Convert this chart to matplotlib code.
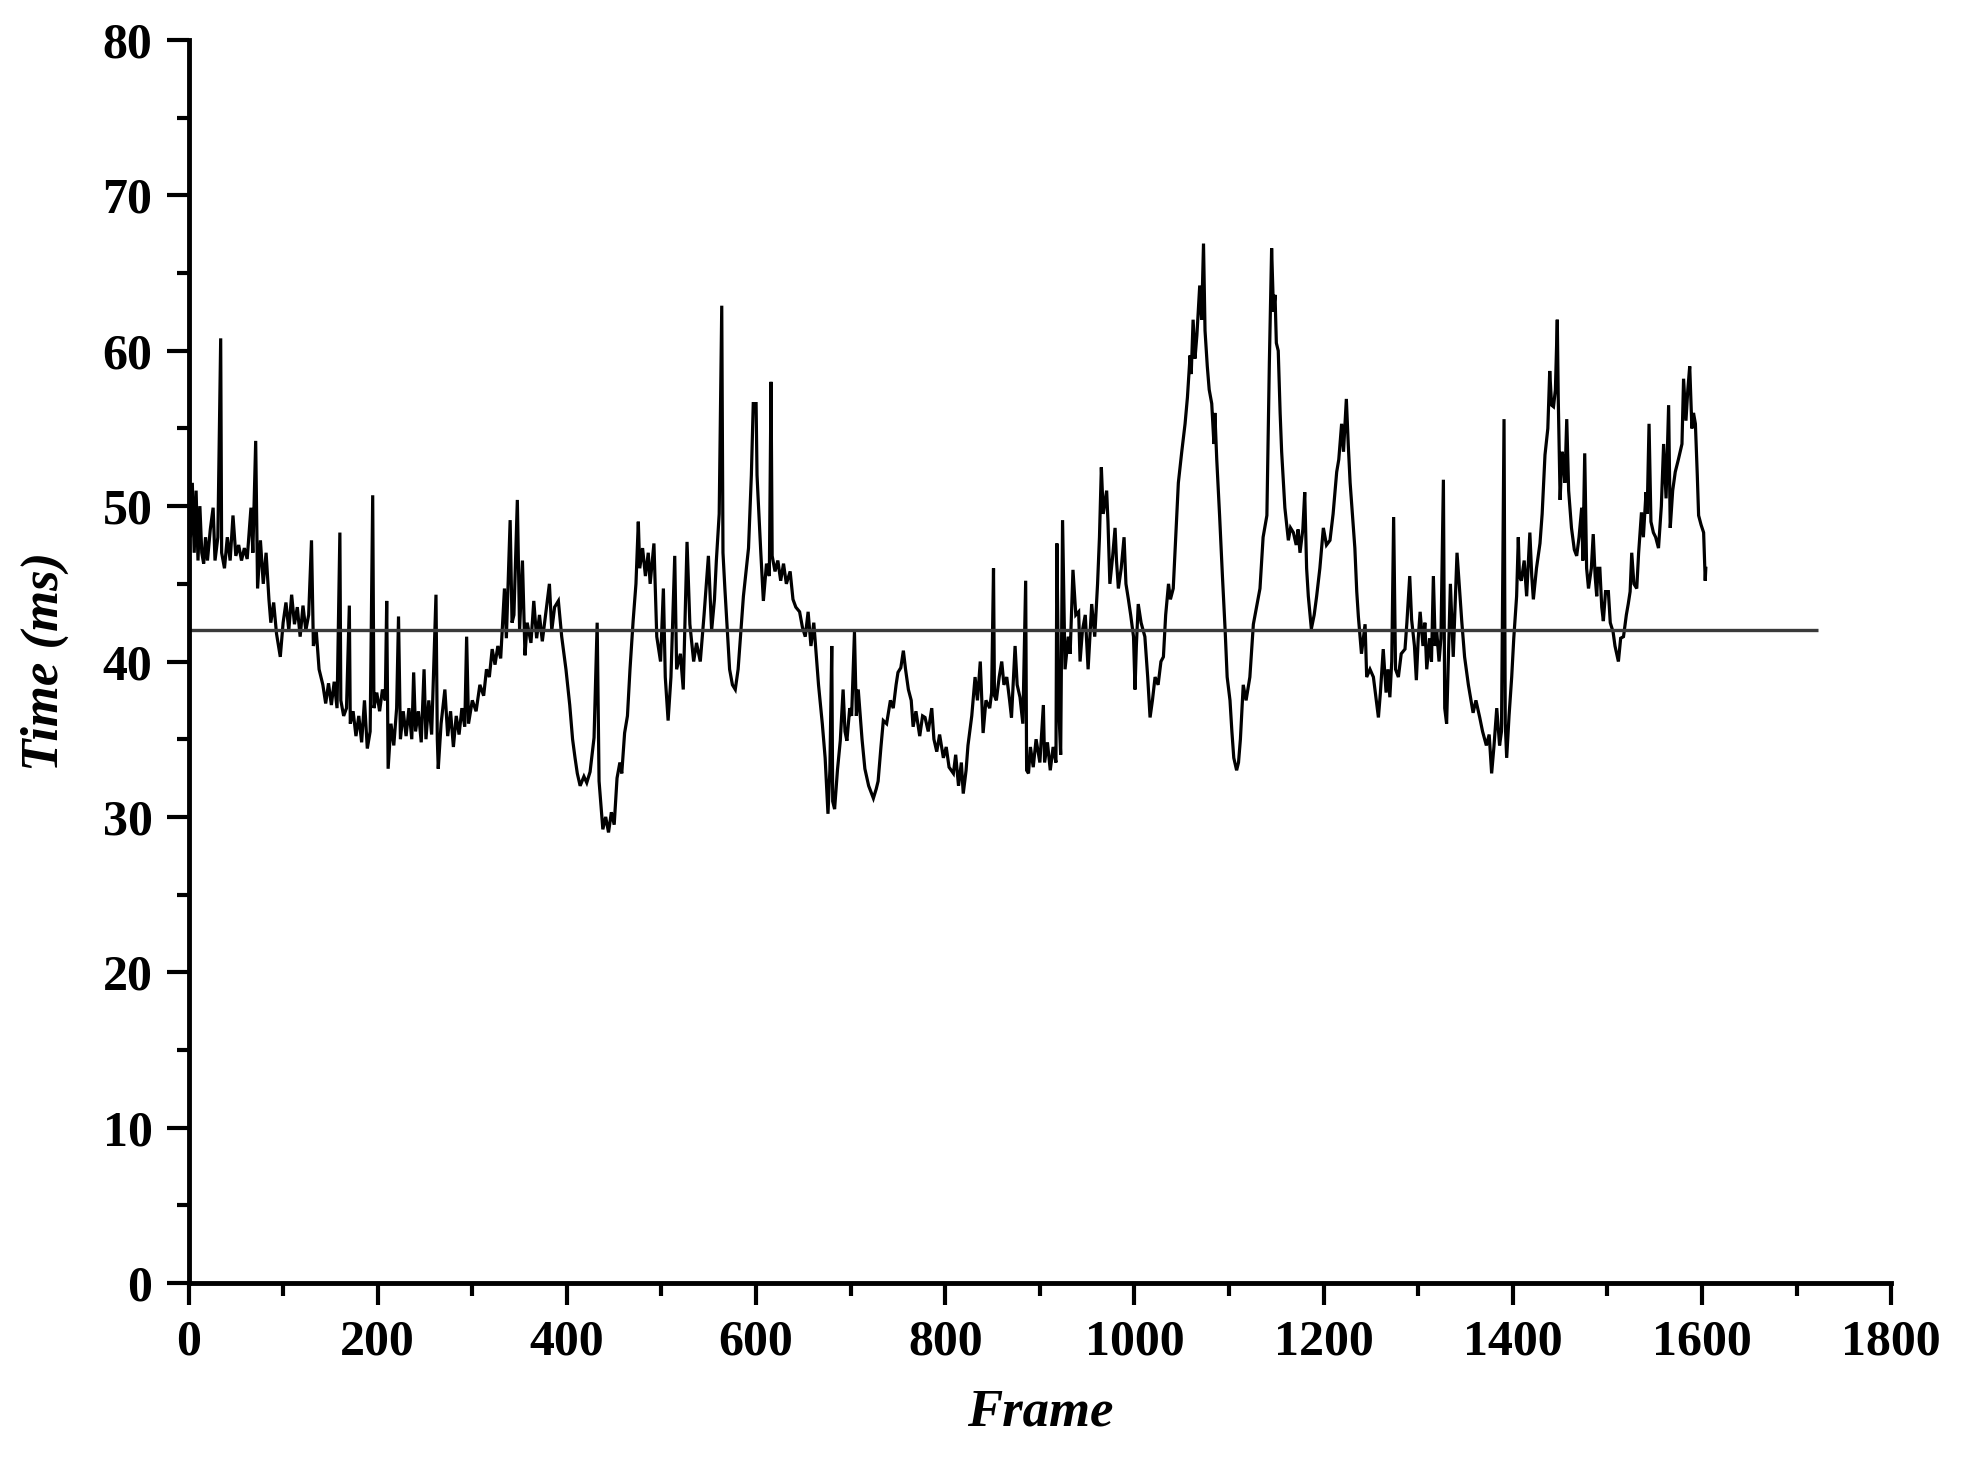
import numpy as np
import matplotlib
matplotlib.use("Agg")
import matplotlib.pyplot as plt
from matplotlib.ticker import MultipleLocator

# frame index and processing time (ms)
frame = [0, 1, 2, 4, 6, 8, 10, 12, 14, 16, 18, 20, 23, 26, 28, 31, 34, 35, 38, 41,
         44, 47, 50, 53, 56, 59, 62, 66, 68, 71, 73, 76, 79, 82, 85, 87, 90, 93, 97, 100,
         103, 106, 109, 112, 115, 118, 121, 124, 127, 130, 132, 135, 138, 142, 145, 148, 151, 154, 157, 160,
         161, 164, 167, 170, 171, 174, 177, 180, 183, 186, 189, 192, 194.7, 196, 199, 202, 205, 208, 209.5, 211,
         214, 217, 220, 222, 224, 227, 230, 233, 236, 238, 240, 243, 246, 249, 251, 254, 257, 261.6, 263, 264,
         267, 271, 274, 277, 280, 283, 286, 289, 292, 294, 296, 300, 304, 308, 312, 315, 318, 321, 324, 327,
         330, 334, 336, 340, 342, 344, 347.6, 350, 353, 355.7, 358, 362, 365, 368, 371, 374, 377, 381.5, 384, 387,
         391, 394.5, 399, 403, 406, 408.6, 411, 414, 418, 421, 424.5, 428.7, 432, 434, 438, 441, 444, 447, 450, 453,
         456, 458, 461, 464, 466.7, 470, 473, 475.5, 477, 480, 483, 486, 488, 492, 495, 499, 502, 504, 507, 510,
         514, 516, 520, 523, 527, 530, 534, 537, 541, 545, 549.6, 553, 556, 558, 561, 563.7, 565, 567, 572, 575,
         578, 581, 586.6, 592, 595, 597, 600, 601, 602, 605, 607.7, 611, 614, 615.8, 617, 620, 623, 626, 629, 632,
         636, 639, 642, 646, 649, 652, 655, 658, 661, 666, 670, 673, 676, 678, 680, 681, 683, 686, 689, 692,
         694, 696, 699, 701, 704, 706, 708, 712, 715, 719, 724, 727, 729, 732, 734.5, 738, 742, 745, 748, 750,
         753, 755.7, 758, 761, 764, 766, 769, 773, 776, 778.6, 782, 785.7, 788, 791, 794, 798, 801, 804, 808.6, 811,
         814, 817, 819, 822, 824, 828, 831.5, 834, 837, 840, 843, 847, 849, 851, 852, 854, 857, 859.7, 862, 865,
         868, 870, 873.8, 876, 879, 882, 885, 886, 888, 890, 893, 896, 900, 903.7, 905, 908, 911, 914, 917, 918,
         920, 922, 924, 926.6, 930, 932, 935, 938, 941, 942.5, 945, 948, 951, 954.8, 958, 961, 963, 965, 967, 970.6,
         972, 974, 977, 979.5, 981, 983, 986, 989, 991, 993.6, 996, 999, 1000.6, 1002, 1004, 1007, 1011, 1014, 1016.5, 1019,
         1021.8, 1025, 1028, 1030.6, 1033, 1036, 1038, 1041, 1044, 1046.4, 1050, 1053.5, 1056, 1058.8, 1060, 1062, 1064, 1066, 1069, 1071,
         1073, 1074.6, 1077, 1079, 1081.7, 1084, 1085, 1087, 1090, 1093, 1095.8, 1098, 1101, 1103, 1105, 1108, 1110, 1112, 1115, 1118,
         1122, 1125.7, 1129, 1132.7, 1136, 1140, 1142.6, 1145, 1147, 1148.6, 1150, 1152, 1154, 1155.6, 1159, 1162.7, 1165, 1168, 1171, 1173,
         1175, 1178, 1180, 1182, 1183.8, 1187, 1190, 1192.6, 1196, 1199.7, 1203, 1206.7, 1210, 1213.8, 1216, 1219, 1221, 1224, 1226, 1228,
         1231, 1233, 1235, 1236.7, 1240, 1243.8, 1245.5, 1249, 1252.6, 1255, 1257.9, 1260, 1263, 1266, 1268, 1270, 1272, 1274, 1276, 1279,
         1282, 1286, 1288, 1291, 1293, 1296, 1298, 1300, 1302, 1305, 1307, 1309, 1312, 1314, 1316, 1318, 1319.5, 1322, 1324, 1326.6,
         1328, 1330, 1332, 1334, 1337, 1341, 1346, 1349, 1353, 1358, 1361, 1365, 1368, 1372, 1375, 1377.6, 1380, 1383, 1386, 1388,
         1390.7, 1392, 1393.5, 1396, 1398.8, 1401, 1404, 1405.8, 1407, 1409, 1412, 1414.6, 1418, 1420, 1421.7, 1425, 1428.7, 1431, 1434, 1437,
         1439, 1441, 1443, 1445, 1447, 1448, 1450, 1452, 1453.4, 1455, 1457, 1459, 1462, 1465, 1467.5, 1470, 1472.8, 1474, 1476, 1478,
         1480, 1483, 1485, 1487, 1488.7, 1490, 1492, 1494, 1495.7, 1498, 1501, 1503, 1506, 1508, 1511.6, 1514, 1517, 1520, 1522, 1524,
         1525.7, 1528, 1531, 1533, 1536, 1538, 1540.8, 1542, 1544, 1546, 1548.6, 1551, 1554, 1557, 1559.4, 1562, 1564.7, 1566.4, 1569, 1571.7,
         1575, 1578.8, 1580.5, 1583, 1585, 1587, 1589.3, 1591, 1593, 1595, 1596.4, 1599, 1601.7, 1603.4, 1604]

time_ms = [65.5, 50.5, 48, 51.5, 47, 51, 46.5, 50, 47, 46.3, 48, 46.5, 48.5, 49.9, 46.5, 48, 60.8, 47, 46, 48,
           46.5, 49.4, 46.8, 47.5, 46.5, 47.3, 46.6, 49.9, 47, 54.2, 44.7, 47.8, 45, 47, 44, 42.5, 43.8, 41.8, 40.3, 42.5,
           43.8, 42, 44.3, 42.4, 43.5, 41.6, 43.6, 42, 43, 47.8, 41, 42, 39.5, 38.5, 37.3, 38.6, 37.2, 38.7, 37, 48.3,
           37.5, 36.5, 37, 43.6, 36, 36.8, 35.2, 36.5, 34.8, 37.5, 34.4, 35.5, 50.7, 37, 38, 36.8, 38.2, 37.5, 43.9, 33.1,
           36, 34.6, 37, 42.9, 35, 36.8, 35.2, 37, 35, 39.3, 35.5, 36.8, 34.8, 39.5, 35, 37.5, 35.3, 44.3, 35, 33.1,
           36, 38.2, 35.2, 36.8, 34.5, 36.5, 35.3, 37, 35.8, 41.6, 36, 37.5, 36.8, 38.5, 37.8, 39.5, 39, 40.8, 39.8, 41,
           40.2, 44.7, 41.5, 49.1, 42.5, 43, 50.4, 42, 46.5, 40.4, 42.5, 41.2, 43.9, 41.5, 43, 41.3, 42.8, 45, 42, 43.5,
           43.9, 41.6, 39.5, 37.2, 35, 33.8, 32.8, 32, 32.6, 32.2, 32.9, 35.1, 42.5, 32.3, 29.2, 30, 29, 30.3, 29.5, 32.5,
           33.5, 32.8, 35.4, 36.5, 39.5, 42.6, 45, 49, 46, 47.3, 45.5, 47, 45, 47.6, 41.6, 40, 44.7, 39, 36.2, 39,
           46.8, 39.5, 40.5, 38.2, 47.7, 42.4, 40, 41.2, 40, 43, 46.8, 42, 44, 46.5, 49.5, 62.9, 47, 44.7, 39.5, 38.5,
           38.2, 39.5, 44.2, 47.3, 52, 56.6, 56.6, 52, 50.7, 47, 43.9, 46.3, 45.5, 58, 46.8, 45.8, 46.5, 45.2, 46.3, 45,
           45.8, 44, 43.5, 43.2, 42.2, 41.6, 43.2, 41, 42.5, 38.5, 36, 33.8, 30.2, 33, 41, 31, 30.5, 33, 34.9, 38.2,
           35.5, 34.9, 37, 36.5, 41.9, 36.5, 38.2, 35, 33.1, 32, 31.2, 31.8, 32.3, 34.5, 36.2, 36, 37.5, 37, 38.5, 39.3,
           39.6, 40.7, 39.5, 38.2, 37.5, 35.8, 36.8, 35.2, 36.5, 36.4, 35.5, 37, 35, 34.2, 35.3, 33.8, 34.5, 33.2, 32.8, 34,
           32, 33.5, 31.5, 33, 34.6, 36.5, 39, 37.5, 40, 35.4, 37.5, 37, 38, 46, 37.8, 37.5, 39, 40, 38.5, 39,
           37.5, 36.4, 41, 38.5, 37.7, 36, 45.2, 33, 32.8, 34.5, 33.2, 35, 33.5, 37.2, 33.5, 34.8, 33, 34.5, 33.5, 47.6,
           37, 34, 49.1, 39.5, 41.6, 40.5, 45.9, 43, 43.2, 40, 42, 43, 39.5, 43.7, 41.6, 45, 48, 52.5, 49.5, 51,
           49, 45, 46.8, 48.6, 46.5, 44.7, 46, 48, 45, 44, 43, 41.6, 38.2, 41, 43.7, 42.5, 41.6, 39, 36.4, 37.5,
           39, 38.5, 40, 40.3, 43, 45, 44, 44.7, 48.5, 51.5, 53.5, 55.3, 57, 59.7, 58.5, 62, 59.5, 61, 64.2, 62,
           66.9, 61.3, 59, 57.5, 56.6, 54, 56, 53, 49.4, 45.5, 42.1, 39, 37.5, 35.5, 33.8, 33, 33.5, 35, 38.5, 37.5,
           39, 42.4, 43.5, 44.7, 48, 49.4, 59.2, 66.6, 62.5, 63.6, 60.5, 60, 56, 53.5, 49.9, 47.8, 48.6, 48.3, 47.5, 48.5,
           47, 48.5, 50.9, 46, 44.2, 42.1, 43, 44.2, 46, 48.6, 47.5, 47.8, 49.5, 52.2, 53, 55.3, 53.5, 56.9, 54, 51.5,
           49, 47.3, 44.5, 42.9, 40.5, 42.4, 39, 39.5, 39, 37.8, 36.4, 38, 40.8, 38, 39.5, 37.7, 40, 49.3, 39.5, 39,
           40.5, 40.8, 42.5, 45.5, 42.7, 41, 38.8, 41.5, 43.2, 41, 42.5, 39.5, 41.5, 40, 45.5, 41, 42, 40, 41.5, 51.7,
           37, 36, 40.6, 45, 40.3, 47, 42.6, 40.3, 38.5, 36.7, 37.5, 36.4, 35.5, 34.6, 35.3, 32.8, 34.5, 37, 34.6, 35.5,
           55.6, 36, 33.8, 36.5, 39, 41.5, 44.2, 48, 45.5, 45.2, 46.5, 44.2, 48.3, 45.5, 44, 46, 47.6, 49.5, 53.3, 55,
           58.7, 56.5, 56.4, 57.5, 62, 57, 50.4, 53.5, 53, 51.5, 55.6, 51, 48.6, 47.2, 46.8, 48, 49.9, 46.5, 53.4, 46,
           44.7, 46, 48.2, 45.5, 44.2, 46, 46, 43.5, 42.6, 44.5, 44.5, 42.5, 41.9, 41, 40, 41.5, 41.6, 43, 43.7, 44.5,
           47, 45, 44.7, 47, 49.6, 48, 50.9, 49.5, 55.3, 49, 48.3, 48, 47.3, 50, 54, 50.5, 56.5, 48.6, 51, 52.2,
           53, 54, 58.2, 55.5, 57.5, 59, 55, 56, 55.3, 52, 49.4, 48.8, 48.3, 45.2, 46]

mean_ms = 42
mean_line_end = 1723

plt.rcParams['font.family'] = ['Liberation Serif', 'DejaVu Serif']
plt.rcParams['font.weight'] = 'bold'

fig = plt.figure(figsize=(19.7, 14.6), dpi=100)
ax = fig.add_axes([0.0957, 0.1212, 0.8643, 0.8514])

ax.plot(frame, time_ms, color='black', lw=2.3, solid_joinstyle='miter')
ax.hlines(mean_ms, 0, mean_line_end, color='#3a3a3a', lw=2.4)

ax.set_xlim(0, 1800)
ax.set_ylim(0, 80)
ax.xaxis.set_major_locator(MultipleLocator(200))
ax.xaxis.set_minor_locator(MultipleLocator(100))
ax.yaxis.set_major_locator(MultipleLocator(10))
ax.yaxis.set_minor_locator(MultipleLocator(5))

for side in ['top', 'right']:
    ax.spines[side].set_visible(False)
for side in ['left', 'bottom']:
    ax.spines[side].set_linewidth(3.5)

ax.tick_params(which='major', direction='out', length=16, width=3, labelsize=36, pad=10)
ax.tick_params(which='minor', direction='out', length=9, width=3)
for lab in ax.get_xticklabels() + ax.get_yticklabels():
    lab.set_fontweight('bold')

ax.set_xlabel('Frame', fontsize=38, fontweight='bold', fontstyle='italic')
ax.set_ylabel('Time (ms)', fontsize=38, fontweight='bold', fontstyle='italic')
ax.xaxis.set_label_coords(0.5, -0.085)
ax.yaxis.set_label_coords(-0.07, 0.5)

fig.savefig('out.png', dpi=100)
